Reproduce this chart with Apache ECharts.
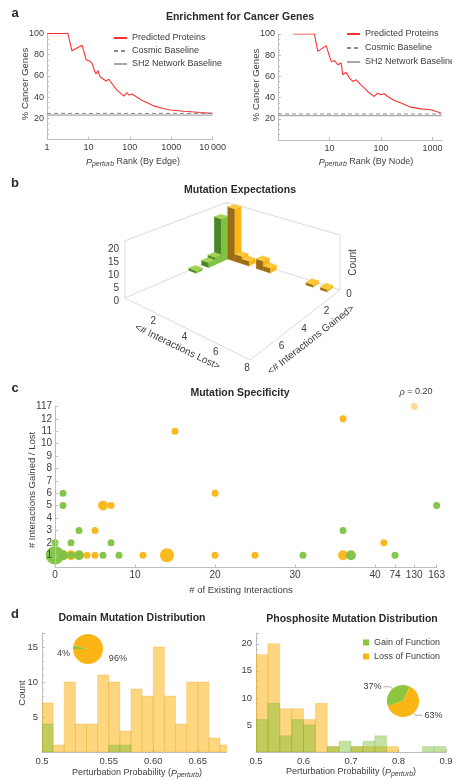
<!DOCTYPE html>
<html>
<head>
<meta charset="utf-8">
<script src="https://cdn.jsdelivr.net/npm/echarts@6/dist/echarts.min.js"></script>
<style>
  html, body { margin: 0; padding: 0; background: #fff; }
  #chart { width: 452px; height: 781px; }
</style>
</head>
<body>
<div id="chart"></div>
<script>
// ---- panel a : enrichment for cancer genes ----
var edgeRank = [1, 3.2, 4, 7, 8.9, 9.6, 10.8, 12.3, 13.4, 15.3, 17, 18.7, 21.3, 23.5, 27, 31, 34, 39.5, 45, 54, 62, 71, 78, 85, 94, 113, 125, 150, 198, 260, 380, 600, 950, 2000, 5100, 10000];
var edgePct = [100, 100, 83.7, 89, 75, 73.4, 74, 71.8, 67, 61.8, 65, 60, 57.7, 56.1, 55.2, 57, 54.5, 51.4, 48.3, 45.1, 43, 41, 42, 44.2, 42, 43, 43.6, 39.8, 36.7, 34.8, 31.7, 29.5, 27.9, 26.6, 25.4, 24.8];
var nodeRank = [1.95, 5.1, 5.9, 8.6, 10.8, 12.5, 14.5, 16.8, 18.1, 21, 24.4, 28.3, 32.8, 35.3, 41, 47.6, 55, 64, 74, 86, 100, 116, 134, 180, 244, 380, 590, 930, 1450];
var nodePct = [100, 100, 83.6, 89, 74, 74.8, 71, 72.6, 61.6, 63.8, 58.4, 55.3, 56.8, 57.5, 52, 49, 45.8, 43.3, 41.1, 44.2, 42.7, 43.6, 41, 37.3, 34.8, 31, 29.4, 28.5, 25.4];
var cosmicBaseline = 24.6;
var sh2Baseline = 23;
var edgeMax = 10000, nodeMax = 1500;

// ---- panel b : mutation expectations (3D histogram) ----
var binW = 0.5;
var gainBinStart = [0, 0.5, 1.0, 1.5, 2.5];        // <# interactions gained>, lost = 0
var gainBinCount = [1, 18, 3, 2, 1];
var lossBinStart = [0.5, 1.0, 1.5, 2.5, 3.0, 6.0, 7.0]; // <# interactions lost>, gained = 0
var lossBinCount = [22, 3, 2, 4, 2, 1, 1];
var countTicks = [0, 5, 10, 15, 20];
var lostTicks = [2, 4, 6, 8];
var gainedTicks = [0, 2, 4, 6];

// ---- panel c : mutation specificity  [existing, gained/lost, mutations] ----
var gainPts = [[0, 2, 1], [1, 6, 1], [1, 5, 1], [3, 3, 1], [2, 2, 1], [7, 2, 1], [0, 1, 7], [1, 1, 2], [2, 1, 1], [3, 1, 2], [6, 1, 1], [8, 1, 1], [31, 1, 1], [37, 1, 2], [74, 1, 1], [36, 3, 1], [163, 5, 1]];
var lossPts = [[15, 11, 1], [20, 6, 1], [6, 5, 2], [7, 5, 1], [5, 3, 1], [1, 1, 2], [2, 1, 2], [3, 1, 1], [4, 1, 1], [5, 1, 1], [11, 1, 1], [14, 1, 4], [20, 1, 1], [25, 1, 1], [36, 1, 2], [36, 12, 1], [55, 2, 1]];
var lossFaded = [[130, 117, 1]];
var xBreakRaw = [40, 74, 130, 163], xBreakPos = [40, 42.5, 44.9, 47.7];
var yBreakRaw = [12, 117], yBreakPos = [12, 13];
var rho = '0.20';

// ---- panel d : perturbation probability histograms ----
var domStart = 0.475, domBin = 0.0125;
var domLoss = [7, 1, 10, 4, 4, 11, 10, 3, 9, 8, 15, 8, 4, 10, 10, 2, 1];
var domGain = [4, 0, 0, 0, 0, 0, 1, 1, 0, 0, 0, 0, 0, 0, 0, 0, 0];
var phosStart = 0.5, phosBin = 0.025;
var phosLoss = [18, 20, 8, 8, 6, 9, 1, 0, 1, 1, 1, 1, 0, 0, 0, 0];
var phosGain = [6, 9, 3, 6, 5, 0, 1, 2, 1, 2, 3, 0, 0, 0, 1, 1];
var domPie = [4, 96], phosPie = [37, 63];

var FONT = 'Liberation Sans, Arial, Helvetica, sans-serif';
var TXT = '#3c3c3c', AX = '#bdbdbd';
var GREEN = '#8cc63f', ORANGE = '#fbb515';

function brk(v, raw, pos) {
  if (v <= raw[0]) return v;
  for (var i = 1; i < raw.length; i++) {
    if (v <= raw[i]) return pos[i - 1] + (v - raw[i - 1]) / (raw[i] - raw[i - 1]) * (pos[i] - pos[i - 1]);
  }
  return pos[pos.length - 1];
}
function zip(a, b) { return a.map(function (v, i) { return [v, b[i]]; }); }

function axis(o) {
  var base = {
    axisLine: { show: true, lineStyle: { color: AX, width: 1 } },
    axisTick: { show: true, inside: true, length: 3, lineStyle: { color: AX } },
    axisLabel: { color: TXT, fontSize: 9, fontFamily: FONT, margin: 4 },
    splitLine: { show: false }
  };
  for (var k in o) {
    if (base[k] && typeof o[k] === 'object') base[k] = Object.assign({}, base[k], o[k]);
    else base[k] = o[k];
  }
  return base;
}

// ---- 3D projection for panel b (bilinear floor, in local units of the hidden grid) ----
var lostMax = 8, gainedMax = 8, countTop = 22;
var bFloor = { D: [127, 59], C: [240, 95], B: [150, 165], A: [25, 103] };
var bScale = { D: 2.35, C: 2.5, B: 2.75, A: 2.6 };
function bProj(l, g, z) {
  var u = l / lostMax, v = g / gainedMax;
  var w = { D: (1 - u) * (1 - v), C: u * (1 - v), B: u * v, A: (1 - u) * v };
  var x = 0, y = 0, s = 0;
  ['D', 'C', 'B', 'A'].forEach(function (k) {
    x += w[k] * bFloor[k][0]; y += w[k] * bFloor[k][1]; s += w[k] * bScale[k];
  });
  return [x, y - z * s];
}

var barColors = [
  { top: '#a3d257', left: '#4b8727', right: '#7fc242' },  // gain
  { top: '#fec63a', left: '#9a6c16', right: '#fbb515' }   // loss
];

var bars3d = [];
gainBinStart.forEach(function (g, i) { bars3d.push([0, g, gainBinCount[i], 0]); });
lossBinStart.forEach(function (l, i) { bars3d.push([l, 0, lossBinCount[i], 1]); });
bars3d.sort(function (a, b) { return (a[0] + a[1]) - (b[0] + b[1]) || a[3] - b[3]; });

function bar3dItem(params, api) {
  var l0 = api.value(0), g0 = api.value(1), h = api.value(2), kind = api.value(3);
  var l1 = l0 + binW, g1 = g0 + binW;
  var P = function (l, g, z) { return api.coord(bProj(l, g, z)); };
  var c = barColors[kind];
  function face(pts, fill) {
    return { type: 'polygon', shape: { points: pts }, style: { fill: fill, stroke: fill, lineWidth: 0.3 } };
  }
  return {
    type: 'group',
    children: [
      face([P(l0, g1, 0), P(l1, g1, 0), P(l1, g1, h), P(l0, g1, h)], c.left),
      face([P(l1, g0, 0), P(l1, g1, 0), P(l1, g1, h), P(l1, g0, h)], c.right),
      face([P(l0, g0, h), P(l1, g0, h), P(l1, g1, h), P(l0, g1, h)], c.top)
    ]
  };
}

function bText(x, y, s, align, rot, size) {
  return {
    type: 'text', x: x, y: y, rotation: rot || 0,
    style: { text: s, fill: TXT, fontSize: size || 10, fontFamily: FONT, align: align || 'center', verticalAlign: 'middle' }
  };
}
function frameItem(params, api) {
  var P = function (l, g, z) { return api.coord(bProj(l, g, z)); };
  var L = lostMax, G = gainedMax, Z = countTop;
  var edges = [
    [0, G, 0, L, G, 0], [L, G, 0, L, 0, 0], [0, G, 0, 0, 0, 0], [0, 0, 0, L, 0, 0],
    [0, G, 0, 0, G, Z], [0, 0, 0, 0, 0, Z], [L, 0, 0, L, 0, Z],
    [0, G, Z, 0, 0, Z], [0, 0, Z, L, 0, Z]
  ];
  var ch = edges.map(function (e) {
    var a = P(e[0], e[1], e[2]), b = P(e[3], e[4], e[5]);
    return { type: 'line', shape: { x1: a[0], y1: a[1], x2: b[0], y2: b[1] }, style: { stroke: '#d2d2d2', lineWidth: 0.8 } };
  });
  countTicks.forEach(function (z) { var p = P(0, G, z); ch.push(bText(p[0] - 6, p[1] + 3, String(z), 'right')); });
  lostTicks.forEach(function (l) { var p = P(l, G, 0); ch.push(bText(p[0] - 3, p[1] + 8, String(l))); });
  gainedTicks.forEach(function (g) { var p = P(L, g, 0); ch.push(bText(p[0] + 9, p[1] + 4, String(g))); });
  var pl = P(L / 2, G, 0), pg = P(L, G / 2, 0), pc = P(L, 0, Z / 2);
  ch.push(bText(pl[0] - 10, pl[1] + 18, '<# Interactions Lost>', 'center', -0.45));
  ch.push(bText(pg[0] + 16, pg[1] + 15, '<# Interactions Gained>', 'center', 0.66));
  ch.push(bText(pc[0] + 13, pc[1], 'Count', 'center', Math.PI / 2));
  return { type: 'group', children: ch };
}

// ---- histograms for panel d ----
function histData(start, w, counts) {
  return counts.map(function (c, i) { return [start + i * w, start + (i + 1) * w, c]; }).filter(function (d) { return d[2] > 0; });
}
function histItem(fill, stroke) {
  return function (params, api) {
    var p0 = api.coord([api.value(0), api.value(2)]);
    var p1 = api.coord([api.value(1), 0]);
    return {
      type: 'rect',
      shape: { x: p0[0], y: p0[1], width: p1[0] - p0[0], height: p1[1] - p0[1] },
      style: { fill: fill, stroke: stroke, lineWidth: 0.6 }
    };
  };
}
var lossFill = 'rgba(251,181,21,0.55)', lossStroke = 'rgba(232,160,20,0.45)';
var gainFill = 'rgba(122,190,50,0.45)', gainStroke = 'rgba(110,170,40,0.35)';

// ---- texts ----
function t(x, y, s, size, extra) {
  return {
    type: 'text', x: x, y: y, silent: true,
    rotation: (extra && extra.rot) || 0,
    style: Object.assign({ text: s, fill: TXT, fontSize: size, fontFamily: FONT, align: 'center', verticalAlign: 'middle' }, extra && extra.style)
  };
}
var bold = { style: { fontWeight: 'bold', fill: '#2a2a2a' } };
var rich = {
  n: { fontSize: 9, fontFamily: FONT, fill: TXT },
  i: { fontSize: 9, fontFamily: FONT, fontStyle: 'italic', fill: TXT },
  s: { fontSize: 7, fontFamily: FONT, fontStyle: 'italic', fill: TXT, padding: [5, 0, 0, 0] }
};
function pName(x, y, tail, pre) {
  return {
    type: 'text', x: x, y: y, silent: true,
    style: { text: (pre ? '{n|' + pre + '}' : '') + '{i|P}{s|perturb}{n|' + tail + '}', rich: rich, align: 'center', verticalAlign: 'middle' }
  };
}
var texts = [
  t(15, 13, 'a', 13, bold), t(15, 183, 'b', 13, bold), t(15, 388, 'c', 13, bold), t(15, 614, 'd', 13, bold),
  t(240, 17, 'Enrichment for Cancer Genes', 10.5, bold),
  t(240, 190, 'Mutation Expectations', 10.5, bold),
  t(240, 393, 'Mutation Specificity', 10.5, bold),
  t(132, 618, 'Domain Mutation Distribution', 10.5, bold),
  t(352, 619, 'Phosphosite Mutation Distribution', 10.5, bold),
  t(25, 84, '% Cancer Genes', 9.5, { rot: Math.PI / 2 }),
  t(256, 85, '% Cancer Genes', 9.5, { rot: Math.PI / 2 }),
  pName(133, 162, ' Rank (By Edge)'),
  pName(366, 162, ' Rank (By Node)'),
  t(32, 490, '# Interactions Gained / Lost', 9.5, { rot: Math.PI / 2 }),
  t(241, 590, '# of Existing Interactions', 9.5),
  {
    type: 'text', x: 416, y: 392, silent: true,
    style: { text: '{i|\u03c1}{n| = ' + rho + '}', rich: rich, align: 'center', verticalAlign: 'middle' }
  },
  t(22, 693, 'Count', 9.5, { rot: Math.PI / 2 }),
  pName(137, 773, ')', 'Perturbation Probability ('),
  pName(351, 772, ')', 'Perturbation Probability (')
];

var aNames = ['Predicted Proteins', 'Cosmic Baseline', 'SH2 Network Baseline'];
var legendText = { color: TXT, fontSize: 9, fontFamily: FONT };
var hideSym = { opacity: 0 };

var option = {
  animation: false,
  backgroundColor: '#fff',
  textStyle: { fontFamily: FONT },
  graphic: texts,
  legend: [
    { data: aNames, left: 113, top: 33.5, padding: 0, orient: 'vertical', itemWidth: 13, itemHeight: 6, itemGap: 4, selectedMode: false, itemStyle: hideSym, textStyle: legendText },
    { data: aNames, left: 346, top: 29.5, padding: 0, orient: 'vertical', itemWidth: 13, itemHeight: 6, itemGap: 5, selectedMode: false, itemStyle: hideSym, textStyle: legendText },
    { data: ['Gain of Function', 'Loss of Function'], left: 363, top: 638, padding: 0, orient: 'vertical', icon: 'rect', itemWidth: 6, itemHeight: 6, itemGap: 5, selectedMode: false, textStyle: legendText }
  ],
  grid: [
    { left: 47, top: 33.5, width: 165.6, height: 106, outerBoundsMode: 'none' },
    { left: 278, top: 34, width: 163.6, height: 106, outerBoundsMode: 'none' },
    { left: 100, top: 195, width: 260, height: 180, outerBoundsMode: 'none' },
    { left: 55, top: 406.4, width: 381.6, height: 161.2, outerBoundsMode: 'none' },
    { left: 42, top: 633, width: 184.7, height: 119, outerBoundsMode: 'none' },
    { left: 256, top: 633, width: 190, height: 119, outerBoundsMode: 'none' }
  ],
  xAxis: [
    axis({ gridIndex: 0, type: 'log', logBase: 10, min: 1, max: edgeMax,
      axisLabel: { formatter: function (v) { return v === 10000 ? '10\u2009000' : String(v); } } }),
    axis({ gridIndex: 1, type: 'log', logBase: 10, min: 1, max: nodeMax,
      axisLabel: { showMinLabel: false, showMaxLabel: false, formatter: function (v) { return String(Math.round(v)); } } }),
    { gridIndex: 2, type: 'value', min: 0, max: 260, show: false },
    axis({ gridIndex: 3, type: 'value', min: 0, max: xBreakPos[xBreakPos.length - 1], z: 10,
      axisTick: { customValues: [0, 10, 20, 30].concat(xBreakPos) },
      axisLabel: { fontSize: 10, margin: 3, customValues: [0, 10, 20, 30].concat(xBreakPos),
        formatter: function (v) {
          for (var i = 0; i < xBreakPos.length; i++) if (Math.abs(xBreakPos[i] - v) < 1e-6) return String(xBreakRaw[i]);
          return String(v);
        } } }),
    axis({ gridIndex: 4, type: 'value', min: domStart, max: domStart + 16.6 * domBin,
      axisTick: { customValues: [domStart, 0.55, 0.6, 0.65] },
      axisLabel: { fontSize: 9.5, customValues: [domStart, 0.55, 0.6, 0.65],
        formatter: function (v) { return v < 0.5 ? '0.5' : v.toFixed(2); } } }),
    axis({ gridIndex: 5, type: 'value', min: 0.5, max: 0.9, interval: 0.1,
      axisLabel: { fontSize: 9.5, formatter: function (v) { return v.toFixed(1); } } })
  ],
  yAxis: [
    axis({ gridIndex: 0, type: 'value', min: 0, max: 100, interval: 20, axisLabel: { showMinLabel: false, margin: 3 },
      minorTick: { show: true, splitNumber: 4, length: 2, lineStyle: { color: AX } } }),
    axis({ gridIndex: 1, type: 'value', min: 0, max: 100, interval: 20, axisLabel: { showMinLabel: false, margin: 3 },
      minorTick: { show: true, splitNumber: 4, length: 2, lineStyle: { color: AX } } }),
    { gridIndex: 2, type: 'value', min: 0, max: 180, inverse: true, show: false },
    axis({ gridIndex: 3, type: 'value', min: 0, max: yBreakPos[yBreakPos.length - 1], interval: 1, z: 10,
      axisLabel: { fontSize: 10, margin: 3, formatter: function (v) {
        if (v === 0) return '';
        var i = yBreakPos.indexOf(v);
        return i >= 0 ? String(yBreakRaw[i]) : String(v);
      } } }),
    axis({ gridIndex: 4, type: 'value', min: 0, max: 17, interval: 5, axisLabel: { fontSize: 9.5, showMinLabel: false, showMaxLabel: false },
      minorTick: { show: true, splitNumber: 5, length: 2, lineStyle: { color: AX } } }),
    axis({ gridIndex: 5, type: 'value', min: 0, max: 22, interval: 5, axisLabel: { fontSize: 9.5, showMinLabel: false, showMaxLabel: false },
      minorTick: { show: true, splitNumber: 5, length: 2, lineStyle: { color: AX } } })
  ],
  series: [
    // panel a
    { name: 'Predicted Proteins', type: 'line', xAxisIndex: 0, yAxisIndex: 0, data: zip(edgeRank, edgePct), symbol: 'none', color: '#ff3030', lineStyle: { width: 1.1, color: '#ff3030' } },
    { name: 'Cosmic Baseline', type: 'line', xAxisIndex: 0, yAxisIndex: 0, data: [[1, cosmicBaseline], [edgeMax, cosmicBaseline]], symbol: 'none', color: '#8a8a8a', lineStyle: { width: 1, type: [4, 3], color: '#8a8a8a' } },
    { name: 'SH2 Network Baseline', type: 'line', xAxisIndex: 0, yAxisIndex: 0, data: [[1, sh2Baseline], [edgeMax, sh2Baseline]], symbol: 'none', color: '#a8a8a8', lineStyle: { width: 1.4, color: '#a8a8a8' } },
    { name: 'Predicted Proteins', type: 'line', xAxisIndex: 1, yAxisIndex: 1, data: zip(nodeRank, nodePct), symbol: 'none', color: '#ff3030', lineStyle: { width: 1.1, color: '#ff3030' } },
    { name: 'Cosmic Baseline', type: 'line', xAxisIndex: 1, yAxisIndex: 1, data: [[1, cosmicBaseline], [nodeMax, cosmicBaseline]], symbol: 'none', color: '#8a8a8a', lineStyle: { width: 1, type: [4, 3], color: '#8a8a8a' } },
    { name: 'SH2 Network Baseline', type: 'line', xAxisIndex: 1, yAxisIndex: 1, data: [[1, sh2Baseline], [nodeMax, sh2Baseline]], symbol: 'none', color: '#a8a8a8', lineStyle: { width: 1.4, color: '#a8a8a8' } },
    // panel b
    { type: 'custom', xAxisIndex: 2, yAxisIndex: 2, data: [[0, 0]], renderItem: frameItem, silent: true, clip: false, z: 1 },
    { type: 'custom', xAxisIndex: 2, yAxisIndex: 2, data: bars3d, renderItem: bar3dItem, silent: true, clip: false, z: 2 },
    // panel c
    { type: 'scatter', xAxisIndex: 3, yAxisIndex: 3, silent: true, itemStyle: { color: '#fdd27c' },
      data: lossFaded.map(function (p) { return [brk(p[0], xBreakRaw, xBreakPos), brk(p[1], yBreakRaw, yBreakPos), p[2]]; }),
      symbolSize: function (d) { return 7 * Math.sqrt(d[2]); } },
    { type: 'scatter', xAxisIndex: 3, yAxisIndex: 3, silent: true, itemStyle: { color: ORANGE, opacity: 0.95 },
      data: lossPts.map(function (p) { return [brk(p[0], xBreakRaw, xBreakPos), brk(p[1], yBreakRaw, yBreakPos), p[2]]; }),
      symbolSize: function (d) { return 7 * Math.sqrt(d[2]); } },
    { type: 'scatter', xAxisIndex: 3, yAxisIndex: 3, silent: true, itemStyle: { color: '#7dc242', opacity: 0.95 },
      data: gainPts.map(function (p) { return [brk(p[0], xBreakRaw, xBreakPos), brk(p[1], yBreakRaw, yBreakPos), p[2]]; }),
      symbolSize: function (d) { return 7 * Math.sqrt(d[2]); } },
    // panel d
    { name: 'Loss of Function', type: 'custom', xAxisIndex: 4, yAxisIndex: 4, itemStyle: { color: ORANGE }, clip: true, silent: true,
      data: histData(domStart, domBin, domLoss), renderItem: histItem(lossFill, lossStroke) },
    { name: 'Gain of Function', type: 'custom', xAxisIndex: 4, yAxisIndex: 4, itemStyle: { color: GREEN }, clip: true, silent: true,
      data: histData(domStart, domBin, domGain), renderItem: histItem(gainFill, gainStroke) },
    { name: 'Loss of Function', type: 'custom', xAxisIndex: 5, yAxisIndex: 5, itemStyle: { color: ORANGE }, clip: true, silent: true,
      data: histData(phosStart, phosBin, phosLoss), renderItem: histItem(lossFill, lossStroke) },
    { name: 'Gain of Function', type: 'custom', xAxisIndex: 5, yAxisIndex: 5, itemStyle: { color: GREEN }, clip: true, silent: true,
      data: histData(phosStart, phosBin, phosGain), renderItem: histItem(gainFill, gainStroke) },
    { type: 'pie', center: [88, 649], radius: 15, startAngle: 180, clockwise: true, silent: true, z: 5,
      data: [
        { name: 'Gain of Function', value: domPie[0], itemStyle: { color: GREEN } },
        { name: 'Loss of Function', value: domPie[1], itemStyle: { color: ORANGE } }
      ],
      label: { show: true, position: 'outside', formatter: '{c}%', color: TXT, fontSize: 9, fontFamily: FONT, overflow: 'none' },
      labelLine: { show: false, length: 1, length2: 1 },
      labelLayout: function (p) { return p.dataIndex === 0 ? { dx: 4, dy: 7 } : { dx: -1, dy: 8 }; } },
    { type: 'pie', center: [403, 701], radius: 16, startAngle: 198, clockwise: true, silent: true, z: 5,
      data: [{ name: 'Gain of Function', value: phosPie[0], itemStyle: { color: GREEN } }, { name: 'Loss of Function', value: phosPie[1], itemStyle: { color: ORANGE } }],
      label: { show: true, position: 'outside', formatter: '{c}%', color: TXT, fontSize: 9, fontFamily: FONT, overflow: 'none', distanceToLabelLine: 2 },
      labelLine: { show: true, length: 3, length2: 7, lineStyle: { color: '#999', width: 0.8 } } }
  ]
};

var chart = echarts.init(document.getElementById('chart'));
chart.setOption(option);
</script>
</body>
</html>
